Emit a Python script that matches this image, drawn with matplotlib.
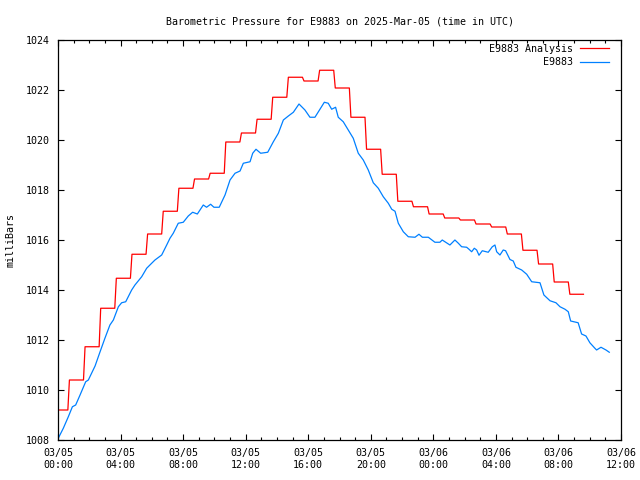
import numpy as np
import pandas as pd
import matplotlib
matplotlib.use("Agg")
import matplotlib.pyplot as plt
import matplotlib.dates as mdates

# hourly analysis levels (mb); each level changes at ~hh:40
red_levels = [1009.2, 1010.4, 1011.73, 1013.27, 1014.47, 1015.43, 1016.24, 1017.15,
              1018.07, 1018.44, 1018.67, 1019.92, 1020.28, 1020.83, 1021.71, 1022.51,
              1022.36, 1022.79, 1022.08, 1020.91, 1019.63, 1018.63, 1017.55, 1017.33,
              1017.04, 1016.88, 1016.80, 1016.64, 1016.52, 1016.24, 1015.59, 1015.04,
              1014.32, 1013.83]
red_end = 33.6

# station observations (hours since 03/05 00:00 UTC, mb)
blue_h = [0.0, 0.34, 0.66, 0.92, 1.13, 1.41, 1.77, 1.94, 2.37, 2.69,
          3.0, 3.32, 3.54, 3.86, 4.07, 4.33, 4.71, 4.92, 5.35, 5.67,
          5.99, 6.2, 6.63, 6.95, 7.16, 7.37, 7.69, 8.01, 8.33, 8.61,
          8.91, 9.29, 9.5, 9.76, 9.97, 10.31, 10.68, 11.0, 11.32, 11.64,
          11.85, 12.28, 12.45, 12.66, 12.96, 13.41, 13.77, 14.09, 14.41, 14.73,
          15.05, 15.41, 15.79, 16.11, 16.43, 16.75, 17.03, 17.28, 17.5, 17.75,
          17.92, 18.24, 18.56, 18.88, 19.2, 19.52, 19.84, 20.16, 20.48, 20.8,
          21.12, 21.34, 21.55, 21.76, 22.08, 22.4, 22.83, 23.08, 23.3, 23.68,
          24.1, 24.42, 24.57, 24.79, 25.06, 25.38, 25.6, 25.81, 26.13, 26.28,
          26.45, 26.62, 26.77, 26.92, 27.13, 27.51, 27.77, 27.94, 28.05, 28.26,
          28.47, 28.62, 28.9, 29.11, 29.28, 29.65, 29.97, 30.29, 30.82, 31.07,
          31.46, 31.84, 32.1, 32.42, 32.63, 32.78, 33.26, 33.48, 33.76, 34.01,
          34.33, 34.44, 34.72, 35.04, 35.25]
blue_p = [1008.05, 1008.47, 1008.93, 1009.33, 1009.4, 1009.8, 1010.33, 1010.4, 1010.96, 1011.53,
          1012.07, 1012.6, 1012.8, 1013.33, 1013.49, 1013.53, 1014.0, 1014.2, 1014.53, 1014.87,
          1015.07, 1015.2, 1015.4, 1015.8, 1016.07, 1016.27, 1016.67, 1016.71, 1016.96, 1017.11,
          1017.04, 1017.4, 1017.31, 1017.43, 1017.31, 1017.31, 1017.8, 1018.4, 1018.67, 1018.76,
          1019.07, 1019.13, 1019.47, 1019.63, 1019.47, 1019.51, 1019.93, 1020.27, 1020.8, 1020.96,
          1021.11, 1021.44, 1021.2, 1020.91, 1020.91, 1021.23, 1021.51, 1021.47, 1021.23, 1021.31,
          1020.91, 1020.73, 1020.4, 1020.07, 1019.47, 1019.2, 1018.8, 1018.29, 1018.07, 1017.73,
          1017.47, 1017.23, 1017.15, 1016.67, 1016.33, 1016.13, 1016.11, 1016.23, 1016.11, 1016.11,
          1015.91, 1015.91, 1016.0, 1015.91, 1015.8, 1016.0, 1015.87, 1015.73, 1015.71, 1015.63,
          1015.53, 1015.67, 1015.6, 1015.39, 1015.57, 1015.51, 1015.73, 1015.8, 1015.53, 1015.4,
          1015.6, 1015.57, 1015.22, 1015.16, 1014.91, 1014.8, 1014.63, 1014.33, 1014.29, 1013.8,
          1013.57, 1013.49, 1013.33, 1013.23, 1013.13, 1012.76, 1012.69, 1012.24, 1012.16, 1011.89,
          1011.67, 1011.6, 1011.71, 1011.6, 1011.51]

base = pd.Timestamp("2025-03-05 00:00")

def to_time(hours):
    return base + pd.to_timedelta(np.asarray(hours), unit="h")

# build the analysis trace: flat hourly levels with a short ramp at hh:40
rx, ry = [0.0], [red_levels[0]]
for i in range(1, len(red_levels)):
    rx += [i - 0.37, i - 0.27]
    ry += [red_levels[i - 1], red_levels[i]]
rx.append(red_end)
ry.append(red_levels[-1])

plt.rcParams["font.family"] = "DejaVu Sans Mono"
fs = 7.2

fig = plt.figure(figsize=(6.4, 4.8), dpi=100)
ax = fig.add_axes([58 / 640, 40 / 480, 563 / 640, 400 / 480])

ax.plot(to_time(rx), ry, color="#ff0000", lw=0.9, label="E9883 Analysis")
ax.plot(to_time(blue_h), blue_p, color="#0080ff", lw=0.9, label="E9883")

ax.set_xlim(to_time([0])[0], to_time([36])[0])
ax.set_ylim(1008, 1024)
ax.set_yticks(np.arange(1008, 1025, 2))
ax.xaxis.set_major_locator(mdates.HourLocator(byhour=range(0, 24, 4)))
ax.xaxis.set_minor_locator(mdates.HourLocator())
ax.xaxis.set_major_formatter(mdates.DateFormatter("%m/%d\n%H:%M"))

ax.tick_params(which="both", direction="in", top=True, right=True,
               labelsize=fs, width=0.8, colors="black")
ax.tick_params(which="major", length=4.5, pad=6)
ax.tick_params(which="minor", length=2.2)
for s in ax.spines.values():
    s.set_linewidth(0.9)

ax.set_ylabel("milliBars", fontsize=fs, labelpad=7)
ax.set_title("Barometric Pressure for E9883 on 2025-Mar-05 (time in UTC)",
             fontsize=fs, pad=11.5)

ax.legend(loc="upper right", bbox_to_anchor=(1 - 8 / 563, 1), frameon=False,
          markerfirst=False, fontsize=fs,
          handlelength=2.9, handletextpad=0.7, labelspacing=0.35,
          borderaxespad=0.3, borderpad=0.1)

fig.savefig("out.png", dpi=100)
